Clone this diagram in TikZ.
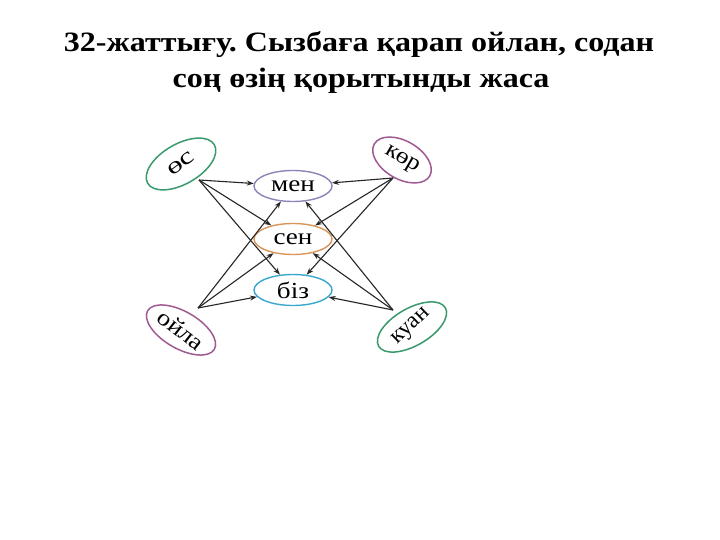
\documentclass[tikz,border=0pt]{standalone}
\usepackage{fontspec}
\setmainfont{Liberation Serif}
\usetikzlibrary{shapes.geometric,arrows.meta}
\definecolor{cgreen}{HTML}{3A9A6E}
\definecolor{cpurple}{HTML}{A05A90}
\definecolor{cmen}{HTML}{8A86B8}
\definecolor{csen}{HTML}{D9955A}
\definecolor{cbiz}{HTML}{3AA8CC}
\frenchspacing
\newcommand{\wide}[1]{\scalebox{1.18}[1]{#1}}
\newcommand{\rot}[3]{\rotatebox[origin=c]{#1}{\scalebox{#2}[1]{#3}}}
\begin{document}
\begin{tikzpicture}[x=1pt,y=-1pt,
  outer/.style={ellipse,draw,line width=1.5pt,inner sep=0pt,font=\fontsize{23}{23}\selectfont},
  inner/.style={ellipse,draw,line width=1.4pt,minimum width=78pt,minimum height=31pt,inner sep=0pt,font=\fontsize{23}{23}\selectfont},
  arr/.style={-{Stealth[length=7pt,width=5pt]},line width=1.1pt,draw=black!85},
  ttl/.style={font=\fontsize{28}{28}\selectfont\bfseries,anchor=base,inner sep=0pt}]
\useasboundingbox (0,0) rectangle (720,540);
\fill[white] (0,0) rectangle (720,540);
\node[ttl] (t1) at (359,52) {\scalebox{1.145}[1]{32-жаттығу. Сызбаға қарап ойлан, содан}};
\node[ttl] (t2) at (361,88) {\scalebox{1.145}[1]{соң өзің қорытынды жаса}};
% outer ellipses
\node[outer,draw=cgreen,minimum width=77pt,minimum height=40pt,rotate=30] (os) at (181,164) {\rot{6}{1.35}{өс}};
\node[outer,draw=cpurple,minimum width=64pt,minimum height=38pt,rotate=-30] (kor) at (402,160) {\rot{0}{1.1}{көр}};
\node[outer,draw=cpurple,minimum width=77pt,minimum height=37pt,rotate=-30] (oila) at (181,330) {\rot{-8}{1.15}{ойла}};
\node[outer,draw=cgreen,minimum width=77pt,minimum height=37pt,rotate=30] (kuan) at (412,327) {\rot{14}{1.02}{куан}};
% inner ellipses
\node[inner,draw=cmen] (men) at (293,186) {\wide{мен}};
\node[inner,draw=csen] (sen) at (293,239) {\wide{сен}};
\node[inner,draw=cbiz] (biz) at (293,290) {\wide{біз}};
% source points
\coordinate (osp) at (199,180);
\coordinate (korp) at (393,178);
\coordinate (oilap) at (198,308);
\coordinate (kuanp) at (393,310);
\foreach \s in {osp,korp,oilap,kuanp}{
  \foreach \t in {men,sen,biz}{
    \draw[arr] (\s) -- (\t);
  }
}
\end{tikzpicture}
\end{document}
